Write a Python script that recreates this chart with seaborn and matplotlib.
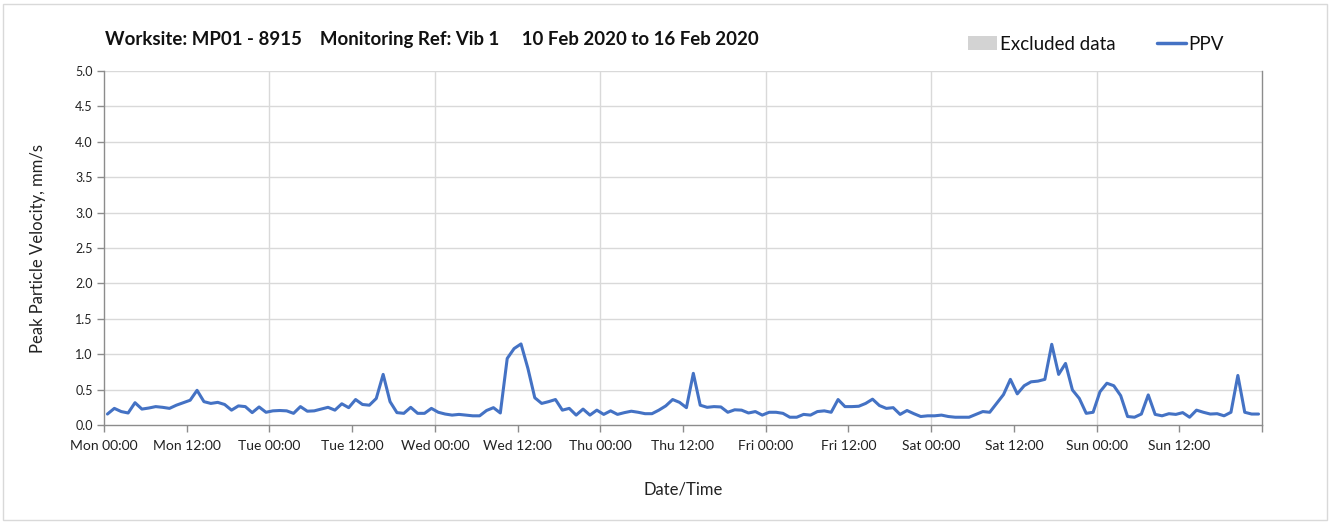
import matplotlib
matplotlib.use("Agg")
import matplotlib.pyplot as plt
import matplotlib.patches as mpatches
import matplotlib.lines as mlines
import numpy as np
import pandas as pd
import seaborn as sns

# ---- data (hourly PPV readings, mm/s) ----
ppv_mon = [0.155, 0.235, 0.19, 0.17, 0.315, 0.225, 0.24, 0.26, 0.25, 0.235, 0.28, 0.315,
           0.35, 0.49, 0.33, 0.305, 0.32, 0.29, 0.21, 0.27, 0.26, 0.175, 0.255, 0.18]
ppv_tue = [0.2, 0.205, 0.2, 0.165, 0.26, 0.195, 0.2, 0.225, 0.25, 0.21, 0.3, 0.245,
           0.36, 0.29, 0.28, 0.375, 0.715, 0.33, 0.175, 0.165, 0.25, 0.165, 0.165, 0.235]
ppv_wed = [0.18, 0.155, 0.14, 0.15, 0.14, 0.13, 0.13, 0.205, 0.245, 0.17, 0.94, 1.08,
           1.145, 0.8, 0.385, 0.305, 0.33, 0.36, 0.21, 0.235, 0.14, 0.225, 0.14, 0.21]
ppv_thu = [0.15, 0.2, 0.15, 0.175, 0.195, 0.18, 0.16, 0.16, 0.21, 0.27, 0.36, 0.32,
           0.245, 0.73, 0.28, 0.25, 0.26, 0.255, 0.18, 0.215, 0.21, 0.17, 0.19, 0.14]
ppv_fri = [0.18, 0.18, 0.165, 0.11, 0.11, 0.15, 0.14, 0.19, 0.2, 0.18, 0.36, 0.26,
           0.26, 0.265, 0.305, 0.365, 0.275, 0.235, 0.245, 0.15, 0.205, 0.16, 0.12, 0.13]
ppv_sat = [0.13, 0.14, 0.12, 0.11, 0.11, 0.11, 0.15, 0.19, 0.18, 0.305, 0.43, 0.645,
           0.44, 0.555, 0.61, 0.62, 0.645, 1.14, 0.715, 0.87, 0.495, 0.375, 0.165, 0.18]
ppv_sun = [0.47, 0.59, 0.555, 0.415, 0.12, 0.11, 0.155, 0.425, 0.15, 0.13, 0.16, 0.15,
           0.175, 0.11, 0.21, 0.18, 0.155, 0.16, 0.13, 0.18, 0.7, 0.18, 0.155, 0.155]

ppv = ppv_mon + ppv_tue + ppv_wed + ppv_thu + ppv_fri + ppv_sat + ppv_sun
# readings are stamped at half past each hour
hours = [h + 0.5 for h in range(len(ppv))]

x_tick_labels = ["Mon 00:00", "Mon 12:00", "Tue 00:00", "Tue 12:00", "Wed 00:00",
                 "Wed 12:00", "Thu 00:00", "Thu 12:00", "Fri 00:00", "Fri 12:00",
                 "Sat 00:00", "Sat 12:00", "Sun 00:00", "Sun 12:00"]
y_ticks = [0.0, 0.5, 1.0, 1.5, 2.0, 2.5, 3.0, 3.5, 4.0, 4.5, 5.0]

title_text = "Worksite: MP01 - 8915    Monitoring Ref: Vib 1     10 Feb 2020 to 16 Feb 2020"

df = pd.DataFrame({"hour": hours, "PPV": ppv})

# ---- style ----
sns.set_theme(style="white")
plt.rcParams["font.family"] = ["Lato", "DejaVu Sans"]

fig = plt.figure(figsize=(13.35, 5.24), dpi=100)
ax = fig.add_axes([0.0779, 0.1889, 0.9453 - 0.0779, 0.8645 - 0.1889])

line_color = "#4472C4"
sns.lineplot(data=df, x="hour", y="PPV", ax=ax, color=line_color, linewidth=2.2)

ax.set_xlim(0, 168)
ax.set_ylim(0, 5.0)
ax.set_yticks(y_ticks)
ax.set_yticklabels([f"{v:.1f}" for v in y_ticks], fontsize=9, color="#222222")

major = list(range(0, 169, 12))
ax.set_xticks(major)
ax.set_xticklabels(x_tick_labels + [""], fontsize=10, color="#222222")

# gridlines: horizontal at every tick, vertical only at day boundaries
for v in y_ticks[1:]:
    ax.axhline(v, color="#d9d9d9", linewidth=1.0, zorder=0)
for d in range(24, 168, 24):
    ax.axvline(d, color="#d9d9d9", linewidth=1.0, zorder=0)
ax.grid(False)

for side in ["left", "bottom", "right"]:
    ax.spines[side].set_visible(True)
    ax.spines[side].set_color("#8c8c8c")
    ax.spines[side].set_linewidth(1.0)
ax.spines["top"].set_visible(False)

ax.tick_params(axis="both", which="both", direction="out", length=5, width=1,
               color="#8c8c8c", bottom=True, left=True)
ax.tick_params(axis="x", pad=6)
ax.tick_params(axis="y", pad=3)

ax.set_xlabel("Date/Time", fontsize=12, color="#222222", labelpad=21)
ax.set_ylabel("Peak Particle Velocity, mm/s", fontsize=12, color="#222222", labelpad=21)

# title
fig.text(105 / 1335, 1 - 40 / 524, title_text, fontsize=13.4, fontweight="bold",
         color="#111111", ha="left", va="center")

# legend
excl = mpatches.Patch(facecolor="#d3d3d3", edgecolor="none", label="Excluded data")
ppv_handle = mlines.Line2D([], [], color=line_color, linewidth=2.5, label="PPV")
fig.legend(handles=[excl, ppv_handle], loc="center", ncol=2,
           bbox_to_anchor=(1096 / 1335, 1 - 44 / 524), frameon=False, fontsize=13.5,
           handlelength=1.55, handleheight=0.7, handletextpad=0.15, columnspacing=2.2,
           labelcolor="#111111")

# outer border
fig.patches.append(mpatches.Rectangle((3 / 1335, 4 / 524), 1324 / 1335, 516 / 524,
                                      transform=fig.transFigure, fill=False,
                                      edgecolor="#d9d9d9", linewidth=1.0))

fig.savefig("out.png", dpi=100, facecolor="white")
